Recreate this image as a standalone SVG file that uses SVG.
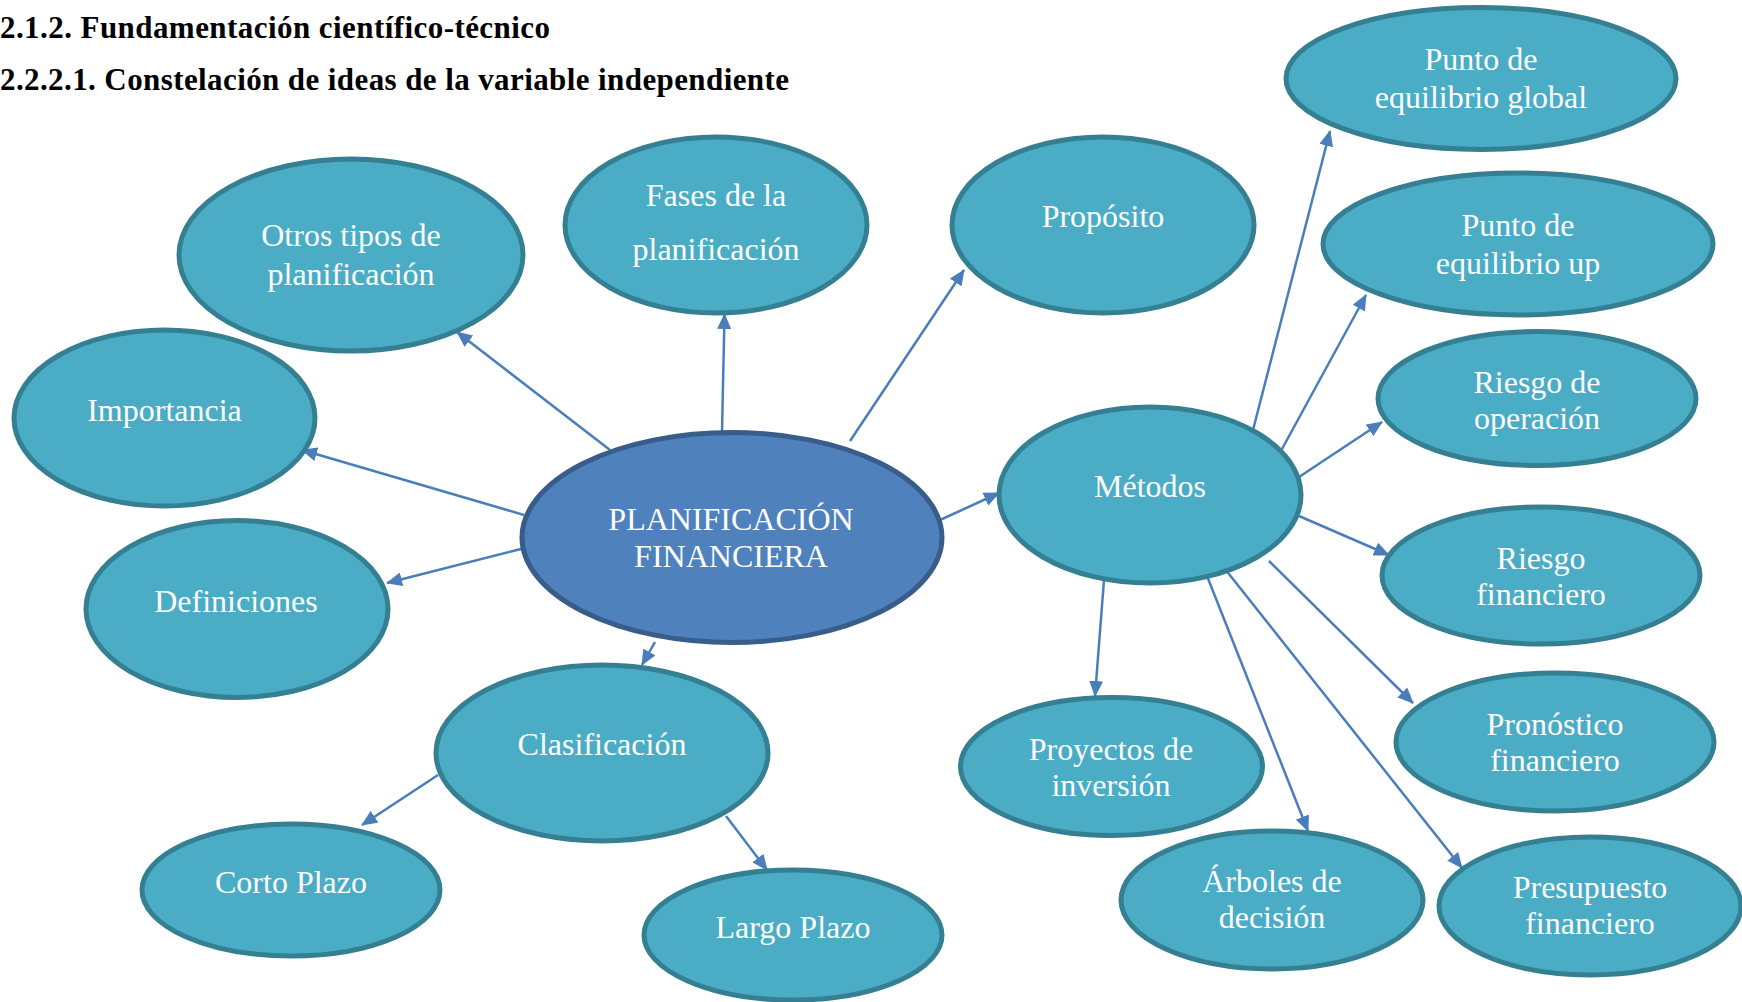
<svg xmlns="http://www.w3.org/2000/svg" width="1742" height="1002" viewBox="0 0 1742 1002">
<style>
.n ellipse{fill:#4BACC6;stroke:#357F92;stroke-width:5}
.c ellipse{fill:#4F81BD;stroke:#385D8A;stroke-width:5}
text.t{font-family:"Liberation Serif","Times New Roman",serif;font-size:32px;fill:#FFFFFF;text-anchor:middle}
.h{font-family:"Liberation Serif","Times New Roman",serif;font-size:31px;font-weight:bold;fill:#000}
#edges line{stroke:#4A7EBB;stroke-width:2.5;fill:none;marker-end:url(#ah)}
</style>
<defs>
<marker id="ah" markerUnits="userSpaceOnUse" markerWidth="16" markerHeight="14" refX="15" refY="7" orient="auto">
<path d="M0,0 L16,7 L0,14 Z" fill="#4A7EBB"/>
</marker>
</defs>
<rect width="1742" height="1002" fill="#FFFFFF"/>
<text class="h" x="0" y="38" textLength="550" lengthAdjust="spacing">2.1.2. Fundamentación científico-técnico</text>
<text class="h" x="0" y="90" textLength="789" lengthAdjust="spacing">2.2.2.1. Constelación de ideas de la variable independiente</text>

<g id="edges">
<line x1="610" y1="450" x2="457" y2="332"/>
<line x1="722" y1="433" x2="724.5" y2="314"/>
<line x1="850" y1="441" x2="964" y2="270"/>
<line x1="524" y1="515" x2="302" y2="450"/>
<line x1="521" y1="549" x2="387" y2="583"/>
<line x1="655" y1="642" x2="642" y2="665"/>
<line x1="940" y1="520" x2="999" y2="493"/>
<line x1="438" y1="775" x2="362" y2="825"/>
<line x1="726" y1="816" x2="767" y2="870"/>
<line x1="1253" y1="430" x2="1330" y2="131"/>
<line x1="1282" y1="449" x2="1366" y2="295"/>
<line x1="1299" y1="477" x2="1382" y2="422"/>
<line x1="1299" y1="516" x2="1389" y2="555"/>
<line x1="1269" y1="561" x2="1413" y2="703"/>
<line x1="1225" y1="569" x2="1462" y2="868"/>
<line x1="1207" y1="576" x2="1308" y2="831"/>
<line x1="1104" y1="580" x2="1095" y2="696"/>
</g>

<g id="n-otros" class="n"><ellipse cx="351" cy="255" rx="172" ry="96"/><text class="t" x="351" y="246">Otros tipos de</text><text class="t" x="351" y="285">planificación</text></g>
<g id="n-fases" class="n"><ellipse cx="716" cy="225" rx="151" ry="88"/><text class="t" x="716" y="206">Fases de la</text><text class="t" x="716" y="260">planificación</text></g>
<g id="n-proposito" class="n"><ellipse cx="1103" cy="225" rx="151" ry="88"/><text class="t" x="1103" y="227">Propósito</text></g>
<g id="n-peg" class="n"><ellipse cx="1481" cy="78.5" rx="195" ry="71"/><text class="t" x="1481" y="70">Punto de</text><text class="t" x="1481" y="108">equilibrio global</text></g>
<g id="n-peu" class="n"><ellipse cx="1518" cy="244" rx="195" ry="71"/><text class="t" x="1518" y="236">Punto de</text><text class="t" x="1518" y="274">equilibrio up</text></g>
<g id="n-rop" class="n"><ellipse cx="1537" cy="398.5" rx="159" ry="67"/><text class="t" x="1537" y="393">Riesgo de</text><text class="t" x="1537" y="429">operación</text></g>
<g id="n-importancia" class="n"><ellipse cx="164.5" cy="418" rx="150.5" ry="88"/><text class="t" x="164.5" y="421">Importancia</text></g>
<g id="n-center" class="c"><ellipse cx="732" cy="537.5" rx="210" ry="105"/><text class="t" x="731" y="530">PLANIFICACIÓN</text><text class="t" x="731" y="567">FINANCIERA</text></g>
<g id="n-metodos" class="n"><ellipse cx="1150" cy="495" rx="151" ry="88"/><text class="t" x="1150" y="497">Métodos</text></g>
<g id="n-rfin" class="n"><ellipse cx="1541" cy="575.5" rx="159" ry="68.5"/><text class="t" x="1541" y="569">Riesgo</text><text class="t" x="1541" y="605">financiero</text></g>
<g id="n-definiciones" class="n"><ellipse cx="237" cy="609" rx="151" ry="88.5"/><text class="t" x="236" y="612">Definiciones</text></g>
<g id="n-clasificacion" class="n"><ellipse cx="602" cy="753" rx="166" ry="88"/><text class="t" x="602" y="755">Clasificación</text></g>
<g id="n-proyectos" class="n"><ellipse cx="1111.5" cy="766.5" rx="151" ry="69"/><text class="t" x="1111" y="760">Proyectos de</text><text class="t" x="1111" y="796">inversión</text></g>
<g id="n-pronostico" class="n"><ellipse cx="1555" cy="742" rx="159" ry="69"/><text class="t" x="1555" y="735">Pronóstico</text><text class="t" x="1555" y="771">financiero</text></g>
<g id="n-corto" class="n"><ellipse cx="291" cy="890" rx="149" ry="66"/><text class="t" x="291" y="893">Corto Plazo</text></g>
<g id="n-largo" class="n"><ellipse cx="793" cy="935" rx="149" ry="65"/><text class="t" x="793" y="938">Largo Plazo</text></g>
<g id="n-arboles" class="n"><ellipse cx="1272" cy="900" rx="151" ry="69"/><text class="t" x="1272" y="892">Árboles de</text><text class="t" x="1272" y="928">decisión</text></g>
<g id="n-presupuesto" class="n"><ellipse cx="1590" cy="906" rx="151" ry="69"/><text class="t" x="1590" y="898">Presupuesto</text><text class="t" x="1590" y="934">financiero</text></g>
</svg>
